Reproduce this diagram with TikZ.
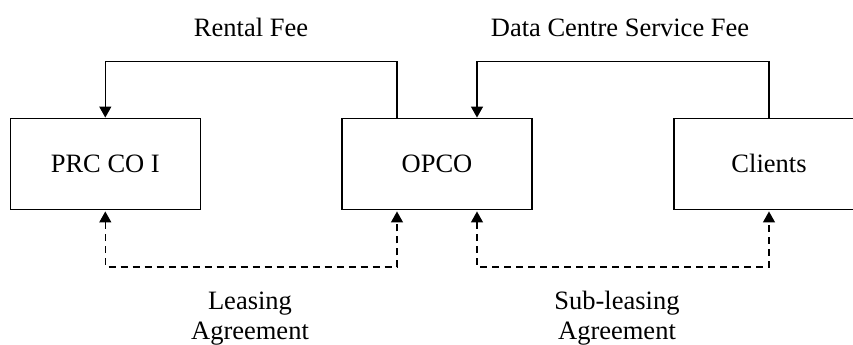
\documentclass[tikz,border=0pt]{standalone}
\usepackage{fontspec}
\setmainfont{Liberation Serif}
\usetikzlibrary{arrows.meta}
\begin{document}
\begin{tikzpicture}[x=0.5pt,y=-0.5pt,
  party/.style={draw,line width=0.65pt,minimum width=95pt,minimum height=45.5pt,
    inner sep=0pt,font=\fontsize{13.25}{15.9}\selectfont},
  label/.style={font=\fontsize{13.25}{14.6}\selectfont,align=center,inner sep=0pt,anchor=base},
  payline/.style={line width=0.65pt,-{Triangle[length=5.5pt,width=6pt]}},
  dealline/.style={line width=0.65pt,dash pattern=on 3.5pt off 2.5pt,
    {Triangle[length=5.5pt,width=6pt]}-{Triangle[length=5.5pt,width=6pt]},
    shorten <=0.8pt,shorten >=0.8pt}]
\useasboundingbox (0,0) rectangle (853,344);

% the three parties
\node[party] (prc)     at (105.3,163.7) {PRC CO I};
\node[party] (opco)    at (437,163.7)   {OPCO};
\node[party] (clients) at (769,163.7)   {Clients};

% payment flows
\draw[payline] ([xshift=-20pt]opco.north) -- ++(0,-56) -| (prc.north);
\draw[payline] (clients.north) -- ++(0,-56) -| ([xshift=20pt]opco.north);

% agreements
\draw[dealline] (prc.south) -- ++(0,57) -| ([xshift=-20pt]opco.south);
\draw[dealline] ([xshift=20pt]opco.south) -- ++(0,57) -| (clients.south);

% labels (base anchor sits on the last line)
\node[label] (rent) at (251,36) {Rental Fee};
\node[label] (svc)  at (620,36) {Data Centre Service Fee};
\node[label] (lease)    at (250,339) {Leasing\\Agreement};
\node[label] (sublease) at (617,339) {Sub-leasing\\Agreement};
\end{tikzpicture}
\end{document}
